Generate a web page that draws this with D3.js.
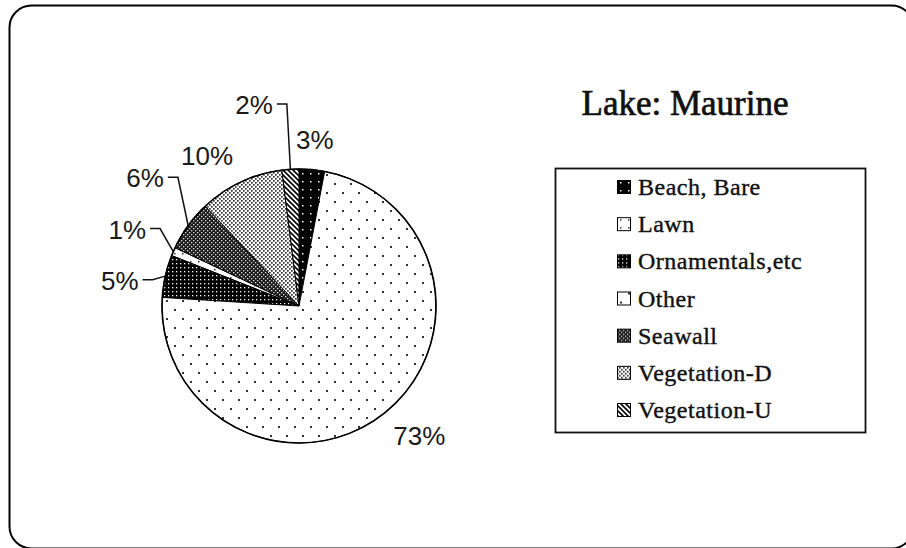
<!DOCTYPE html>
<html>
<head>
<meta charset="utf-8">
<script src="https://cdn.jsdelivr.net/npm/d3@7"></script>
<style>
  body { margin: 0; background: #fff; }
  svg { display: block; }
</style>
</head>
<body>
<script>
// legend order
var categories = ["Beach, Bare", "Lawn", "Ornamentals,etc", "Other", "Seawall", "Vegetation-D", "Vegetation-U"];
var values = [3, 1, 5, 73, 6, 10, 2];
// order the slices go round, clockwise from 12 o'clock
var pieOrder = ["Beach, Bare", "Other", "Ornamentals,etc", "Lawn", "Seawall", "Vegetation-D", "Vegetation-U"];
var title = "Lake: Maurine";

// label nudges (extra radius, extra angle in degrees) and leader flag
var labelLayout = {
    "Beach, Bare":     {dr: 30, da: 0,    leader: false},
    "Lawn":            {dr: 51, da: 0.6,  leader: true},
    "Ornamentals,etc": {dr: 44, da: -4.6, leader: true},
    "Other":           {dr: 40, da: -5,   leader: false},
    "Seawall":         {dr: 63, da: 3.7,  leader: true},
    "Vegetation-D":    {dr: 39, da: -6.3, leader: false},
    "Vegetation-U":    {dr: 69, da: -9,   leader: true}
};

var width = 906, height = 548;
var cx = 299, cy = 306, radius = 137;

var data = categories.map(function(c, i) { return {cat: c, value: values[i]}; });

var svg = d3.select("body").append("svg")
    .attr("width", width)
    .attr("height", height);

// fill patterns
var defs = svg.append("defs");

function pat(id, w, h) {
    return defs.append("pattern")
        .attr("id", id)
        .attr("patternUnits", "userSpaceOnUse")
        .attr("width", w)
        .attr("height", h);
}

var p = pat("p-beach", 8, 8);
p.append("rect").attr("width", 8).attr("height", 8).attr("fill", "#000");
p.append("rect").attr("x", 3).attr("y", 3).attr("width", 1.5).attr("height", 1.5).attr("fill", "#fff");

p = pat("p-lawn", 8, 8);
p.append("rect").attr("width", 8).attr("height", 8).attr("fill", "#fff");
p.append("rect").attr("x", 3).attr("y", 3).attr("width", 1.5).attr("height", 1.5).attr("fill", "#333");

p = pat("p-orn", 4, 4);
p.append("rect").attr("width", 4).attr("height", 4).attr("fill", "#000");
p.append("rect").attr("x", 1).attr("y", 1).attr("width", 1.3).attr("height", 1.3).attr("fill", "#fff");

p = pat("p-other", 16, 18);
p.append("rect").attr("width", 16).attr("height", 18).attr("fill", "#fff");
p.append("rect").attr("x", 3).attr("y", 3).attr("width", 2).attr("height", 2).attr("fill", "#333");
p.append("rect").attr("x", 11).attr("y", 12).attr("width", 2).attr("height", 2).attr("fill", "#333");

p = pat("p-seawall", 4, 4);
p.append("rect").attr("width", 4).attr("height", 4).attr("fill", "#1a1a1a");
p.append("rect").attr("x", 0).attr("y", 0).attr("width", 1.3).attr("height", 1.3).attr("fill", "#ddd");
p.append("rect").attr("x", 2).attr("y", 2).attr("width", 1.3).attr("height", 1.3).attr("fill", "#ddd");

p = pat("p-vegd", 4, 4);
p.append("rect").attr("width", 4).attr("height", 4).attr("fill", "#fff");
p.append("rect").attr("x", 0).attr("y", 0).attr("width", 1.7).attr("height", 1.7).attr("fill", "#333");
p.append("rect").attr("x", 2).attr("y", 2).attr("width", 1.7).attr("height", 1.7).attr("fill", "#333");

p = pat("p-vegu", 5, 5);
p.append("rect").attr("width", 5).attr("height", 5).attr("fill", "#fff");
p.append("path").attr("d", "M-1,-1L6,6M-1,4L1,6M4,-1L6,1")
    .attr("stroke", "#000").attr("stroke-width", 1.6);

var fills = {
    "Beach, Bare": "url(#p-beach)",
    "Lawn": "url(#p-lawn)",
    "Ornamentals,etc": "url(#p-orn)",
    "Other": "url(#p-other)",
    "Seawall": "url(#p-seawall)",
    "Vegetation-D": "url(#p-vegd)",
    "Vegetation-U": "url(#p-vegu)"
};

// outer frame (right and bottom edges run just past the picture)
svg.append("rect")
    .attr("x", 9.5).attr("y", 5.5)
    .attr("width", 904).attr("height", 543)
    .attr("rx", 22).attr("ry", 22)
    .attr("fill", "none")
    .attr("stroke", "#000")
    .attr("stroke-width", 2);

// pie
var pie = d3.pie()
    .value(function(d) { return d.value; })
    .sort(function(a, b) { return pieOrder.indexOf(a.cat) - pieOrder.indexOf(b.cat); });

var arc = d3.arc().innerRadius(0).outerRadius(radius);

var arcs = pie(data);

var g = svg.append("g")
    .attr("transform", "translate(" + cx + "," + cy + ")");

g.selectAll("path.slice")
    .data(arcs)
    .enter().append("path")
    .attr("class", "slice")
    .attr("d", arc)
    .attr("fill", function(d) { return fills[d.data.cat]; })
    .attr("stroke", "#000")
    .attr("stroke-width", 1)
    .attr("stroke-linejoin", "round");

g.append("circle")
    .attr("r", radius)
    .attr("fill", "none")
    .attr("stroke", "#000")
    .attr("stroke-width", 1.6);

function polar(angle, r) {
    return [Math.sin(angle) * r, -Math.cos(angle) * r];
}

// labels
arcs.forEach(function(d) {
    var lay = labelLayout[d.data.cat];
    var mid = (d.startAngle + d.endAngle) / 2;
    var pos = polar(mid + lay.da * Math.PI / 180, radius + lay.dr);
    var t = g.append("text")
        .attr("x", pos[0])
        .attr("y", pos[1])
        .attr("text-anchor", "middle")
        .attr("dominant-baseline", "central")
        .style("font-family", "'Liberation Sans', Arial, sans-serif")
        .style("font-size", "26px")
        .attr("fill", "#1a1a1a")
        .text(d.data.value + "%");

    if (lay.leader) {
        var half = t.node().getComputedTextLength() / 2;
        var edge = polar(mid, radius);
        var sx = pos[0] + half + 4,
            sy = pos[1] - 1;
        var bx = Math.min(sx + 10, edge[0]);
        g.append("path")
            .attr("d", d3.line()([[sx, sy], [bx, sy], edge]))
            .attr("fill", "none")
            .attr("stroke", "#111")
            .attr("stroke-width", 1.5);
    }
});

// title
svg.append("text")
    .attr("x", 685)
    .attr("y", 115)
    .attr("text-anchor", "middle")
    .style("font-family", "'Liberation Serif', 'Times New Roman', serif")
    .style("font-size", "35px")
    .attr("fill", "#111")
    .attr("stroke", "#111")
    .attr("stroke-width", 0.7)
    .text(title);

// legend
var legend = svg.append("g");

legend.append("rect")
    .attr("x", 555.5).attr("y", 168.5)
    .attr("width", 310).attr("height", 264)
    .attr("fill", "#fff")
    .attr("stroke", "#111")
    .attr("stroke-width", 1.8);

var rowY = d3.scalePoint()
    .domain(categories)
    .range([187, 410]);

var item = legend.selectAll("g.item")
    .data(categories)
    .enter().append("g")
    .attr("class", "item")
    .attr("transform", function(c) { return "translate(617," + rowY(c) + ")"; });

item.append("rect")
    .attr("x", 0.5).attr("y", -6.5)
    .attr("width", 13).attr("height", 13)
    .attr("fill", function(c) { return fills[c]; })
    .attr("stroke", "#000")
    .attr("stroke-width", 1);

item.append("text")
    .attr("x", 21)
    .attr("y", 8)
    .style("font-family", "'Liberation Serif', 'Times New Roman', serif")
    .style("font-size", "24px")
    .style("letter-spacing", "0.5px")
    .attr("fill", "#111")
    .attr("stroke", "#111")
    .attr("stroke-width", 0.4)
    .text(function(c) { return c; });
</script>
</body>
</html>
